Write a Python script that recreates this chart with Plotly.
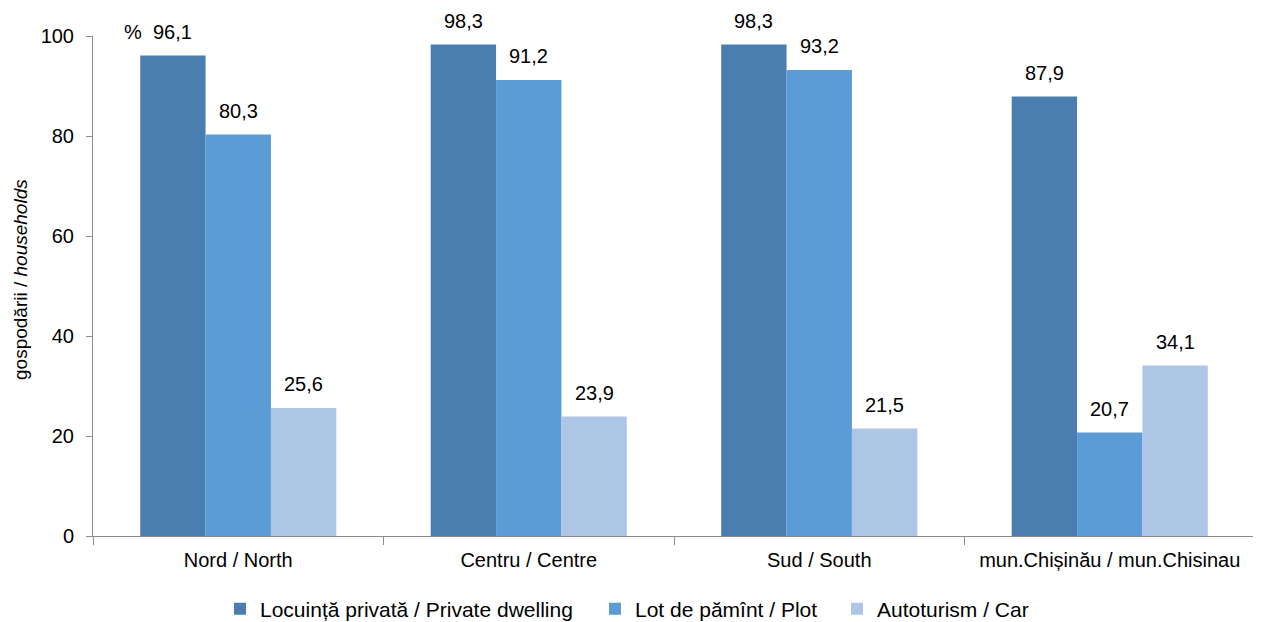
import plotly.graph_objects as go

categories = ["Nord / North", "Centru / Centre", "Sud / South", "mun.Chișinău / mun.Chisinau"]
series_names = ["Locuință privată / Private dwelling", "Lot de pămînt / Plot", "Autoturism / Car"]
dwelling = [96.1, 98.3, 98.3, 87.9]
plot_land = [80.3, 91.2, 93.2, 20.7]
car = [25.6, 23.9, 21.5, 34.1]
colors = ["#4A7EB0", "#5B9BD6", "#ADC6E5"]
y_ticks = [0, 20, 40, 60, 80, 100]

series = [dwelling, plot_land, car]
FONT = "Liberation Sans, Arial, sans-serif"

# page body has an 8px margin: figure coordinates are screen - 8
W, H = 1253, 614
L, R, T, B = 85, 6, 28, 86
PW = W - L - R

legend_text_x = [252, 627, 869]  # where each legend text begins (figure px)
legend_ids = ["legend", "legend2", "legend3"]

fig = go.Figure()
for name, vals, col, lg in zip(series_names, series, colors, legend_ids):
    fig.add_trace(go.Bar(x=categories, y=vals, name=name, legend=lg,
                         marker=dict(color=col, line=dict(width=0))))

annotations = []
bar_px = PW / 4 * 0.675 / 3
for i, vals in enumerate(series):
    for c, v in zip(categories, vals):
        annotations.append(dict(x=c, y=v, xref="x", yref="y", text=f"{v:.1f}".replace(".", ","),
                                showarrow=False, yanchor="bottom", yshift=11, xshift=(i - 1) * bar_px,
                                font=dict(size=20, color="#000", family=FONT)))
annotations.append(dict(x=categories[0], y=100, xref="x", yref="y", text="%", showarrow=False, xshift=-105,
                        yanchor="middle", yshift=4, font=dict(size=20, color="#000", family=FONT)))
annotations.append(dict(x=(12 - L) / PW, y=0.5 + 6 / 500, xref="paper", yref="paper", textangle=-90,
                        text="gospodării / <i>households</i>", showarrow=False,
                        xanchor="center", yanchor="middle", font=dict(size=19, color="#000", family=FONT)))

legend_common = dict(orientation="h", xref="container", yref="container", xanchor="left",
                     yanchor="middle", y=1 - 601 / H, font=dict(size=21, family=FONT),
                     itemwidth=30, borderwidth=0, bgcolor="rgba(0,0,0,0)")
legends = {}
for lg, tx in zip(legend_ids, legend_text_x):
    legends[lg] = dict(legend_common, x=(tx - 40) / W)

fig.update_layout(
    width=W, height=H,
    margin=dict(l=L, r=R, t=T, b=B, autoexpand=False),
    paper_bgcolor="white", plot_bgcolor="white",
    barmode="group", bargap=0.325, bargroupgap=0,
    font=dict(family=FONT, size=20, color="#000"),
    annotations=annotations,
    showlegend=True,
    xaxis=dict(showline=True, linecolor="#8C8C8C", linewidth=1, ticks="outside", tickson="boundaries",
               ticklen=8, tickcolor="#8C8C8C", tickfont=dict(size=20), showgrid=False,
               automargin=False, ticklabelstandoff=6),
    yaxis=dict(range=[0, 100], tickvals=y_ticks, showline=True, linecolor="#8C8C8C", linewidth=1,
               ticks="outside", ticklen=6, tickcolor="#8C8C8C", showgrid=False, zeroline=False,
               tickfont=dict(size=20), automargin=False, ticklabelstandoff=8),
    **legends,
)

fig.write_html("out.html")
